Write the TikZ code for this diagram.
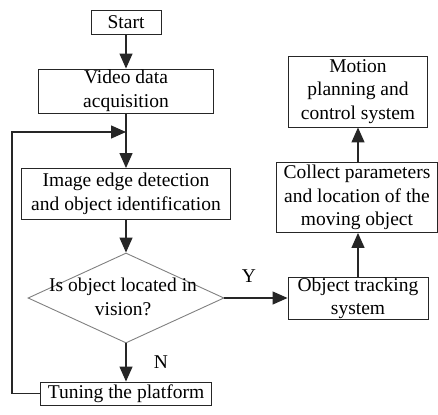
\documentclass[tikz,border=0pt]{standalone}
\usepackage{fontspec}
\setmainfont{Liberation Serif}
\usetikzlibrary{arrows.meta,shapes.geometric}
\begin{document}
\begin{tikzpicture}[x=1pt,y=-1pt,
 txt/.style={font=\fontsize{19.5}{23.5}\selectfont},
 box/.style={txt, draw=black!85, line width=0.9pt, inner sep=0pt, align=center},
 lbl/.style={txt, inner sep=0pt, align=center},
 arr/.style={line width=1.3pt, draw=black!85, -{Triangle[length=15pt,width=13pt]}}]
\useasboundingbox (0,0) rectangle (438,414);
% left column
\node[box, minimum width=70, minimum height=24] (start) at (126,22) {Start};
\node[box, minimum width=175, minimum height=44] (video) at (126,91) {Video data\\acquisition};
\node[box, minimum width=209, minimum height=51] (image) at (126,194) {Image edge detection\\and object identification};
\node[draw=black!50, line width=0.9pt, diamond, minimum width=196, minimum height=90, inner sep=0pt] (dec) at (126,298) {};
\node[lbl] (dectext) at (123,297) {Is object located in\\vision?};
\node[box, minimum width=171, minimum height=23] (tune) at (126,393.5) {Tuning the platform};
% right column
\node[box, minimum width=140, minimum height=42] (track) at (358,298.5) {Object tracking\\system};
\node[box, minimum width=161, minimum height=70] (collect) at (357,197.5) {Collect parameters\\and location of the\\moving object};
\node[box, minimum width=139, minimum height=71] (motion) at (358,91.5) {Motion\\planning and\\control system};
% labels
\node[lbl] (ylab) at (249,276) {Y};
\node[lbl] (nlab) at (161,362) {N};
% connectors
\draw[arr] (start) -- (video);
\draw[arr] (video) -- (image);
\draw[arr] (image) -- (dec.north);
\draw[arr] (dec.south) -- (tune);
\draw[arr] (dec.east) -- (dec.east -| track.west);
\draw[arr] (track.north -| 358,0) -- (collect.south -| 358,0);
\draw[arr] (collect.north -| 358,0) -- (motion.south -| 358,0);
\coordinate (fbA) at (12,393.5);
\coordinate (fbB) at (12,132);
\coordinate (fbC) at (126,132);
\draw[arr] (tune.west) -- (fbA) -- (fbB) -- (fbC);
\end{tikzpicture}
\end{document}
